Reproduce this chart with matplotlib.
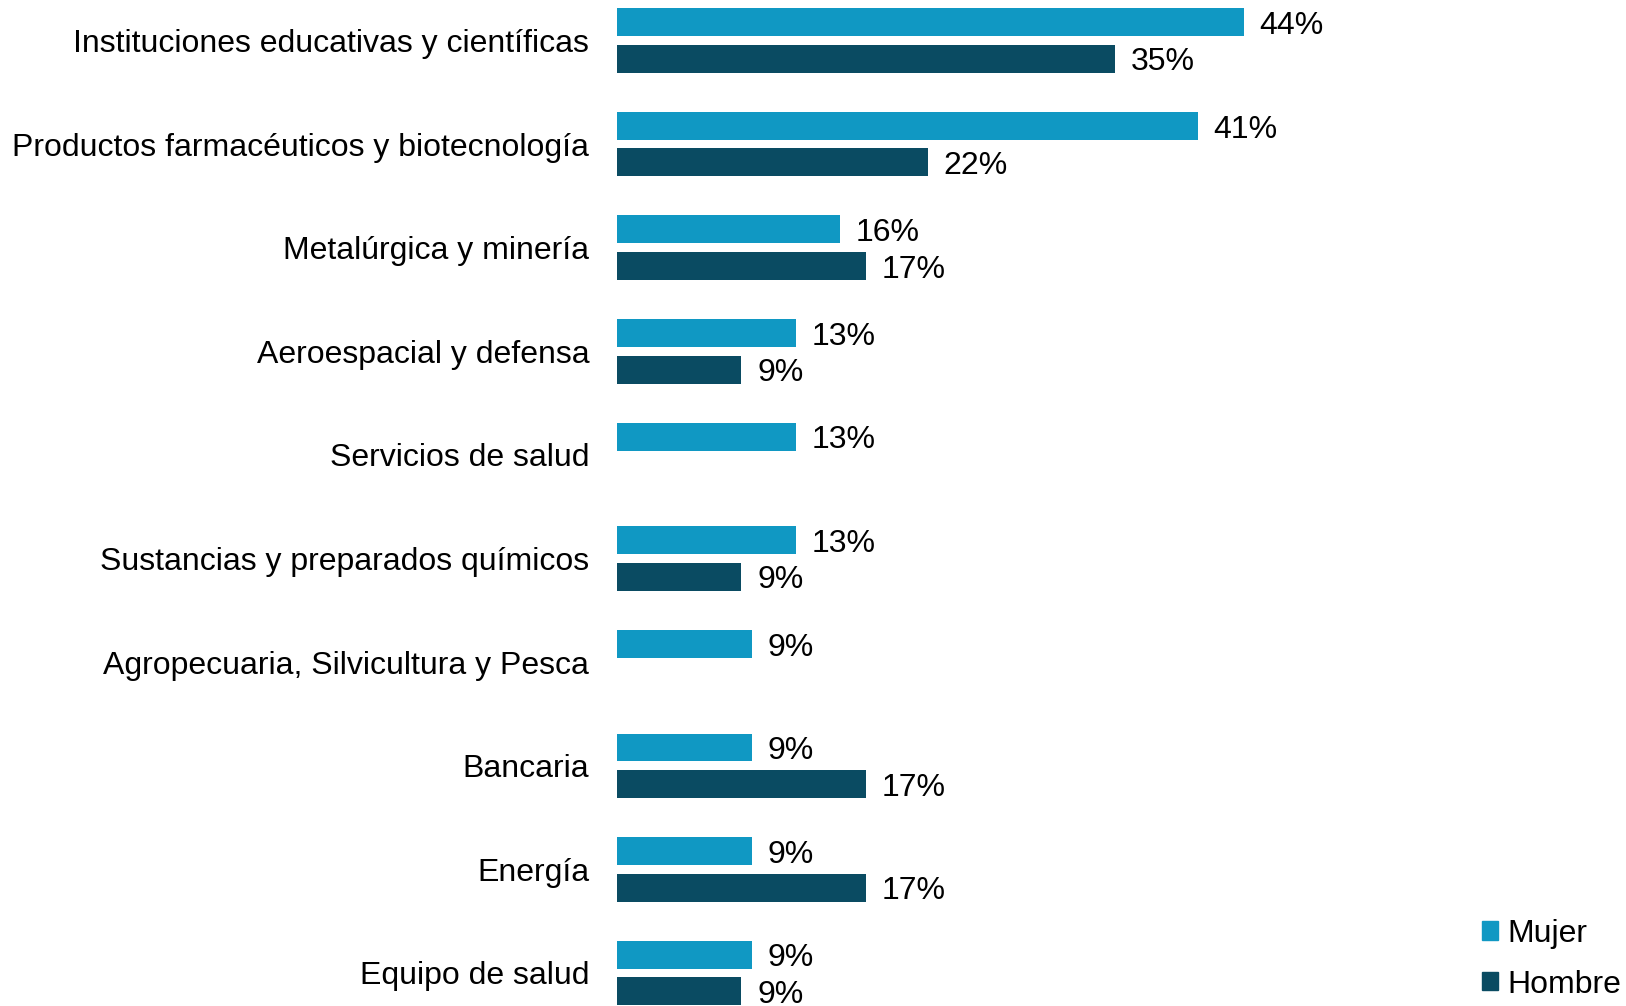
import numpy as np
from matplotlib import pyplot as plt
from matplotlib.patches import Patch

# === DATA ===
categorias = [
    "Instituciones educativas y científicas",
    "Productos farmacéuticos y biotecnología",
    "Metalúrgica y minería",
    "Aeroespacial y defensa",
    "Servicios de salud",
    "Sustancias y preparados químicos",
    "Agropecuaria, Silvicultura y Pesca",
    "Bancaria",
    "Energía",
    "Equipo de salud",
]
mujer = [43.8, 40.6, 15.6, 12.5, 12.5, 12.5, 9.4, 9.4, 9.4, 9.4]
hombre = [34.8, 21.7, 17.4, 8.7, None, 8.7, None, 17.4, 17.4, 8.7]

color_mujer = "#1098C3"
color_hombre = "#0A4B62"

plt.rcParams['font.family'] = ['Liberation Sans', 'DejaVu Sans']

fig = plt.figure(figsize=(16.26, 10.06), dpi=100)
ax = fig.add_axes([617 / 1626, 0, 858.6 / 1626, 1])

y = np.arange(len(categorias))
h = 0.27
off = 0.176

# mujer bars
ax.barh(y - off, mujer, height=h, color=color_mujer)
# hombre bars (skip missing)
yh = [y[i] + off for i in range(len(hombre)) if hombre[i] is not None]
vh = [v for v in hombre if v is not None]
ax.barh(yh, vh, height=h, color=color_hombre)

# value labels (round half up like excel)
def pct(v):
    return "%d%%" % int(v + 0.5)

dy = 0.035
for i, v in enumerate(mujer):
    ax.text(v + 1.1, y[i] - off + dy, pct(v), va="center", ha="left", fontsize=23)
for yy, v in zip(yh, vh):
    ax.text(v + 1.1, yy + dy, pct(v), va="center", ha="left", fontsize=23)

ax.set_xlim(0, 60)
ax.set_ylim(9.319, -0.391)
ax.set_yticks(y)
ax.set_yticklabels(categorias, fontsize=23)
ax.tick_params(axis="y", length=0, pad=20)
ax.set_xticks([])
for s in ax.spines.values():
    s.set_visible(False)

handles = [Patch(color=color_mujer, label="Mujer"), Patch(color=color_hombre, label="Hombre")]
fig.legend(handles=handles, loc="lower left", bbox_to_anchor=(1466 / 1626, -0.0095),
           fontsize=23, frameon=False, handlelength=0.5, handleheight=0.5,
           handletextpad=0.3, labelspacing=0.65, borderaxespad=0.1)

plt.savefig("out.png", dpi=100)
